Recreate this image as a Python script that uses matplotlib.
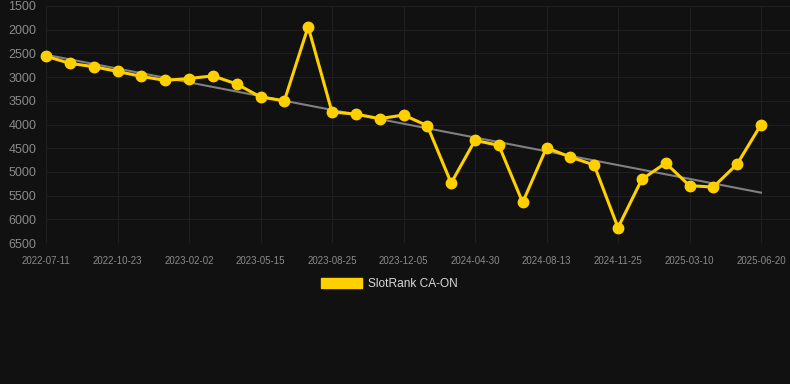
import numpy as np
import matplotlib.pyplot as plt
from matplotlib.patches import Patch

# rank values (lower is better, axis inverted)
ranks = [2560, 2710, 2780, 2880, 2985, 3070, 3030, 2975, 3145, 3420,
         3500, 1937, 3737, 3780, 3877, 3800, 4025, 5235, 4334, 4440,
         5643, 4490, 4686, 4855, 6177, 5157, 4813, 5290, 5320, 4834,
         4004]
tick_labels = ['2022-07-11', '2022-10-23', '2023-02-02', '2023-05-15',
               '2023-08-25', '2023-12-05', '2024-04-30', '2024-08-13',
               '2024-11-25', '2025-03-10', '2025-06-20']
y_ticks = [1500, 2000, 2500, 3000, 3500, 4000, 4500, 5000, 5500, 6000, 6500]

bg = '#111111'
yellow = '#ffd000'

x = np.arange(len(ranks))
slope, intercept = np.polyfit(x, ranks, 1)

fig = plt.figure(figsize=(7.9, 3.84), dpi=100, facecolor=bg)
ax = fig.add_axes([46/790, 1 - 243/384, 1 - 46/790, (243 - 6)/384])
ax.set_facecolor(bg)

ax.plot(x, slope*x + intercept, color='#808080', lw=1.5, zorder=2, clip_on=False)
ax.plot(x, ranks, color=yellow, lw=2.2, marker='o', ms=7.5, zorder=3, clip_on=False)

ax.set_xlim(0, (790 - 46)/((761 - 46)/30))
ax.set_ylim(6500, 1500)
ax.set_yticks(y_ticks)
ax.set_xticks(x[::3])
ax.set_xticklabels(tick_labels)

for s in ax.spines.values():
    s.set_visible(False)
ax.grid(True, color='#1f1f1f', lw=0.8)
ax.set_axisbelow(True)
ax.tick_params(axis='y', length=0, pad=7, labelsize=9, labelcolor='#8a8a8a',
               labelfontfamily='Liberation Sans')
ax.tick_params(axis='x', length=0, pad=9, labelsize=7, labelcolor='#8a8a8a',
               labelfontfamily='Liberation Sans')

handle = Patch(facecolor=yellow, edgecolor=yellow)
fig.legend([handle], ['SlotRank CA-ON'], loc='center',
           bbox_to_anchor=(389.5/790, 1 - 284/384), frameon=False,
           handlelength=3.4, handleheight=0.9, handletextpad=0.55,
           prop={'family': 'Liberation Sans', 'size': 8.6}, labelcolor='#d8d8d8')

fig.savefig('out.png', dpi=100, facecolor=bg)
